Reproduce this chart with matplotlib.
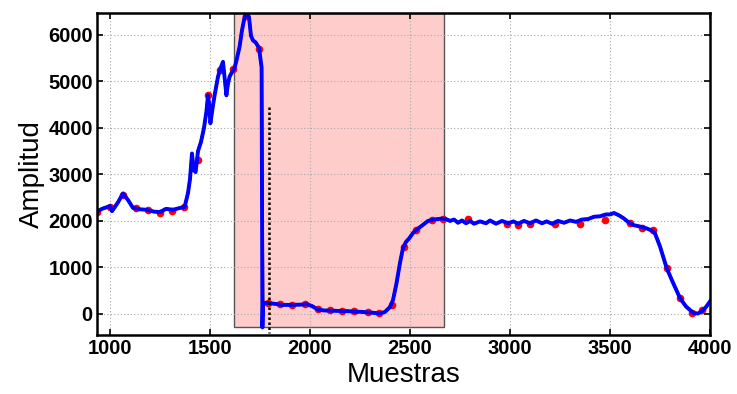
"""Amplitude trace with detected dropout segment highlighted."""

import numpy as np
import matplotlib

matplotlib.use("Agg")
import matplotlib.pyplot as plt
from matplotlib.patches import Rectangle

# measured trace (blue), including the dropout spike at ~1762
signal_x = [935, 960, 1000, 1010, 1040, 1065, 1090, 1115, 1150, 1182, 1220, 1250, 1280, 1315,
            1350, 1373, 1390, 1400, 1410, 1418, 1428, 1440, 1455, 1470, 1482, 1490, 1496, 1502,
            1512, 1523, 1540, 1550, 1565, 1575, 1582, 1590, 1598, 1610, 1623, 1635, 1648, 1660,
            1673, 1685, 1695, 1705, 1715, 1728, 1745, 1752, 1758, 1762, 1765, 1790, 1830, 1857,
            1900, 1950, 1985, 2010, 2040, 2070, 2107, 2150, 2190, 2223, 2260, 2290, 2330, 2350,
            2375, 2400, 2415, 2432, 2450, 2465, 2480, 2495, 2515, 2532, 2560, 2590, 2620, 2657,
            2680, 2700, 2720, 2740, 2760, 2780, 2800, 2820, 2850, 2880, 2900, 2930, 2960, 2990,
            3017, 3040, 3070, 3100, 3130, 3160, 3183, 3210, 3240, 3270, 3300, 3330, 3360, 3390,
            3420, 3450, 3480, 3500, 3520, 3545, 3567, 3590, 3617, 3650, 3683, 3710, 3725, 3750,
            3783, 3810, 3850, 3880, 3917, 3940, 3960, 3980, 4000]
signal_y = [2200, 2260, 2320, 2210, 2400, 2590, 2450, 2280, 2250, 2240, 2200, 2190, 2260, 2240,
            2280, 2300, 2600, 2900, 3450, 3100, 3050, 3500, 3700, 4000, 4350, 4700, 4500, 4100,
            4400, 4700, 5100, 5250, 5420, 5000, 4700, 4950, 5100, 5200, 5290, 5500, 5750, 6100,
            6380, 6460, 6380, 5980, 5880, 5840, 5720, 5500, 5300, -290, 240, 235, 215, 195,
            195, 200, 210, 170, 95, 75, 70, 65, 60, 50, 45, 35, 20, 10,
            45, 150, 300, 650, 1100, 1420, 1550, 1620, 1740, 1810, 1900, 2000, 2030, 2050,
            2040, 2000, 2030, 1960, 2010, 1950, 2000, 1940, 1990, 1950, 2010, 1940, 2000, 1950,
            1990, 1940, 2000, 1950, 2010, 1950, 1990, 1940, 2000, 1960, 2010, 1980, 2030, 2040,
            2090, 2100, 2140, 2140, 2170, 2120, 2060, 1980, 1910, 1880, 1840, 1790, 1730, 1450,
            990, 720, 340, 160, 20, 10, 60, 150, 270]

# sampled points along the trace (red)
sample_x = [935, 1000, 1065, 1130, 1190, 1250, 1310, 1370, 1440, 1490, 1550, 1615, 1680, 1745,
            1790, 1850, 1910, 1975, 2040, 2100, 2160, 2220, 2290, 2345, 2410, 2470, 2530, 2608,
            2665, 2792, 2983, 3040, 3100, 3225, 3350, 3475, 3600, 3658, 3717, 3783, 3850, 3908,
            3958]
sample_y = [2200, 2300, 2560, 2270, 2230, 2180, 2220, 2290, 3310, 4700, 5250, 5270, 6400, 5700,
            235, 210, 200, 205, 100, 75, 65, 55, 40, 20, 200, 1450, 1800, 2020,
            2050, 2040, 1930, 1920, 1930, 1930, 1940, 2010, 1950, 1843, 1806, 983, 338, 14,
            80]

# dropout segment and estimated edge
segment_start, segment_end = 1620, 2670
segment_floor = -270
edge_x = 1795
edge_top, edge_bottom = 4450, -400

sig_x = np.asarray(signal_x, dtype=float)
sig_y = np.asarray(signal_y, dtype=float)
# the reference trace skips the dropout spike
keep = sig_y >= 0
ref_x, ref_y = sig_x[keep], sig_y[keep]

plt.rcParams["font.family"] = ["Liberation Sans", "DejaVu Sans"]

fig = plt.figure(figsize=(7.37, 3.94), dpi=100)
ax = fig.add_axes([0.1316, 0.150, 0.8318, 0.817])

ax.set_xlim(935, 4000)
ax.set_ylim(-450, 6470)
ax.set_xticks(np.arange(1000, 4001, 500))
ax.set_yticks(np.arange(0, 6001, 1000))
ax.grid(True, color="#a8a8a8", linestyle=(0, (1, 2)), linewidth=0.8, zorder=0)

rect = Rectangle((segment_start, segment_floor), segment_end - segment_start,
                 6470 - segment_floor, facecolor="#ffcccc", edgecolor="#555555",
                 linewidth=1.0, zorder=1)
ax.add_patch(rect)

ax.plot(ref_x, ref_y, color="black", linewidth=2.0, zorder=2)
ax.plot(sample_x, sample_y, linestyle="none", marker="o", markersize=5.5,
        color="#ff0000", markeredgewidth=0, zorder=2.5)
ax.plot(sig_x, sig_y, color="#0000ff", linewidth=2.8, zorder=3, solid_joinstyle="round")
ax.plot([edge_x, edge_x], [edge_top, edge_bottom], color="black", linestyle=(0, (1, 1)),
        linewidth=1.8, zorder=4)

for spine in ax.spines.values():
    spine.set_linewidth(1.8)
    spine.set_zorder(6)
ax.tick_params(direction="in", length=4, width=1.2, top=True, right=True,
               labelsize=14.5, pad=3)
for label in ax.get_xticklabels() + ax.get_yticklabels():
    label.set_fontweight("bold")

ax.set_xlabel("Muestras", fontsize=20, labelpad=3)
ax.set_ylabel("Amplitud", fontsize=20, labelpad=2)

fig.savefig("out.png", dpi=100)
plt.close(fig)
